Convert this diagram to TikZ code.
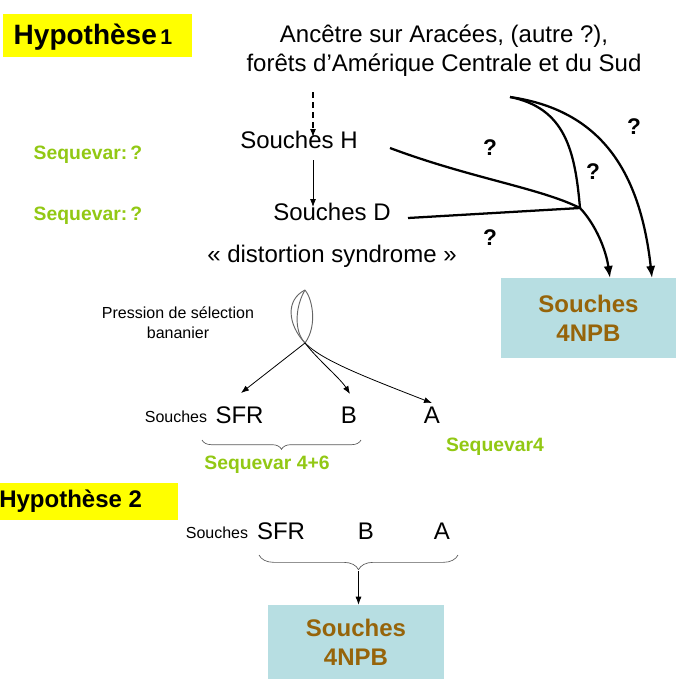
\documentclass[tikz,border=0pt]{standalone}
\usepackage{fontspec}
\setmainfont{Liberation Sans}
\usetikzlibrary{arrows.meta}
\usetikzlibrary{decorations.pathreplacing}

\definecolor{hypyellow}{RGB}{255,255,0}
\definecolor{seqgreen}{RGB}{146,200,20}
\definecolor{npbbrown}{RGB}{150,100,10}
\definecolor{npbblue}{RGB}{183,222,226}

\begin{document}
\begin{tikzpicture}[
      x=0.75pt, y=-0.75pt,
      big_text/.style={font=\fontsize{18}{21.75}\selectfont, inner sep=0pt},
      small_text/.style={font=\fontsize{12}{15}\selectfont, inner sep=0pt},
      seq_text/.style={font=\fontsize{14.5}{17}\selectfont\bfseries, text=seqgreen, inner sep=0pt},
      hyp_box/.style={fill=hypyellow, inner sep=0pt},
      npb_box/.style={fill=npbblue, inner sep=0pt, align=center, text=npbbrown,
                      font=\fontsize{18}{22}\selectfont\bfseries},
      qmark/.style={font=\fontsize{17}{20}\selectfont\bfseries, inner sep=0pt},
      thick_line/.style={line width=1.7pt},
      thick_arrow/.style={line width=1.7pt, -{Latex[length=9pt,width=7pt]}},
      thin_arrow/.style={line width=0.6pt, -{Latex[length=6pt,width=4.5pt]}},
      lens_line/.style={line width=0.7pt, draw=gray!80!black},
      brace_line/.style={line width=0.5pt, draw=gray!70!black, decorate,
                         decoration={brace, mirror, amplitude=#1}}
    ]

    \useasboundingbox (0,0) rectangle (676,679);

    % ------------------------------------------------------------------ %
    % Hypothese 1
    % ------------------------------------------------------------------ %

    \node[hyp_box, minimum width=141.75pt, minimum height=32.25pt] (hypA) at (97.5,35.5) {};
    \node[font=\fontsize{21}{24}\selectfont\bfseries, inner sep=0pt] (hypAtext) at (93,37) {Hypothèse{\fontsize{16}{18}\selectfont\,1}};

    \node[big_text, align=center] (anc) at (444,51) {Ancêtre sur Aracées, (autre ?),\\forêts d’Amérique Centrale et du Sud};

    \node[big_text] (souchesH) at (299,140) {Souches H};
    \node[big_text] (souchesD) at (332,212) {Souches D};
    \node[big_text] (distort) at (332,256) {« distortion syndrome »};

    \node[seq_text] (seqH) at (88,155) {Sequevar:\,?};
    \node[seq_text] (seqD) at (88,216) {Sequevar:\,?};

    \node[npb_box, minimum width=131.25pt, minimum height=60pt] (npbA) at (588.5,318) {Souches\\4NPB};

    % vertical arrows
    \coordinate (dash_top) at (313,92);
    \coordinate (dash_end) at (313,137);
    \coordinate (hd_top) at (313,160);
    \coordinate (hd_end) at (313,207);
    \draw[thin_arrow, line width=0.8pt, dash pattern=on 4.5pt off 3pt] (dash_top) -- (dash_end);
    \draw[thin_arrow] (hd_top) -- (hd_end);

    % curves to 4NPB
    \coordinate (src) at (510,97);
    \coordinate (fork) at (580,208);
    \coordinate (h_out) at (390,148);
    \coordinate (d_out) at (408,218);
    \coordinate (npbA_in1) at (610,278);
    \coordinate (npbA_in2) at (652,278);
    \draw[thick_line] (src) .. controls (565,108) and (575,150) .. (fork);
    \draw[thick_arrow] (fork) .. controls (596,225) and (606,250) .. (npbA_in1);
    \draw[thick_arrow] (src) .. controls (600,110) and (640,170) .. (npbA_in2);
    \draw[thick_line] (h_out) .. controls (470,178) and (540,188) .. (fork);
    \draw[thick_line] (d_out) -- (fork);

    \node[qmark] (qH) at (490,148) {?};
    \node[qmark] (qF) at (593,172) {?};
    \node[qmark] (qS) at (634,127) {?};
    \node[qmark] (qD) at (490,238) {?};

    % selection
    \node[small_text, align=center] (press) at (178,323) {Pression de sélection\\bananier};

    \coordinate (lens_top) at (305,290);
    \coordinate (lens_bot) at (305,343);
    \draw[lens_line] (lens_top) .. controls (285,300) and (288,325) .. (lens_bot);
    \draw[lens_line] (lens_top) .. controls (312,298) and (318,325) .. (lens_bot);
    \draw[lens_line] (lens_top) .. controls (296,305) and (293,330) .. (lens_bot);

    \node[small_text] (souchesA) at (176,417) {Souches};
    \node[big_text] (sfrA) at (239.5,415) {SFR};
    \node[big_text] (bA) at (349,415) {B};
    \node[big_text] (aA) at (432,415) {A};

    \coordinate (sfrA_in) at (241,393);
    \coordinate (bA_in) at (350,394);
    \coordinate (aA_in) at (432,403);
    \draw[thin_arrow] (lens_bot) -- (sfrA_in);
    \draw[thin_arrow] (lens_bot) .. controls (318,360) and (340,378) .. (bA_in);
    \draw[thin_arrow] (lens_bot) .. controls (322,360) and (360,375) .. (aA_in);

    \coordinate (brA_l) at (202,440);
    \coordinate (brA_r) at (361,440);
    \draw[brace_line=7pt] (brA_l) -- (brA_r);

    \node[seq_text] (seqSB) at (267,465) {Sequevar 4+6};
    \node[seq_text] (seqA) at (495,447) {Sequevar4};

    % ------------------------------------------------------------------ %
    % Hypothese 2
    % ------------------------------------------------------------------ %

    \node[hyp_box, minimum width=133.5pt, minimum height=27.75pt] (hypB) at (89,501.5) {};
    \node[anchor=west, font=\fontsize{18}{21}\selectfont\bfseries, inner sep=0pt] (hypBtext) at (-1,501) {Hypothèse 2};

    \node[small_text] (souchesB) at (217,533) {Souches};
    \node[big_text] (sfrB) at (281,531) {SFR};
    \node[big_text] (bB) at (366,531) {B};
    \node[big_text] (aB) at (442,531) {A};

    \coordinate (brB_l) at (259,555);
    \coordinate (brB_r) at (458,555);
    \coordinate (brB_tip) at (358.5,571);
    \draw[brace_line=11pt] (brB_l) -- (brB_r);

    \node[npb_box, minimum width=132pt, minimum height=55.5pt] (npbB) at (356,642) {Souches\\4NPB};

    \draw[thin_arrow] (brB_tip) -- (npbB.north -| brB_tip);

    \end{tikzpicture}
\end{document}
